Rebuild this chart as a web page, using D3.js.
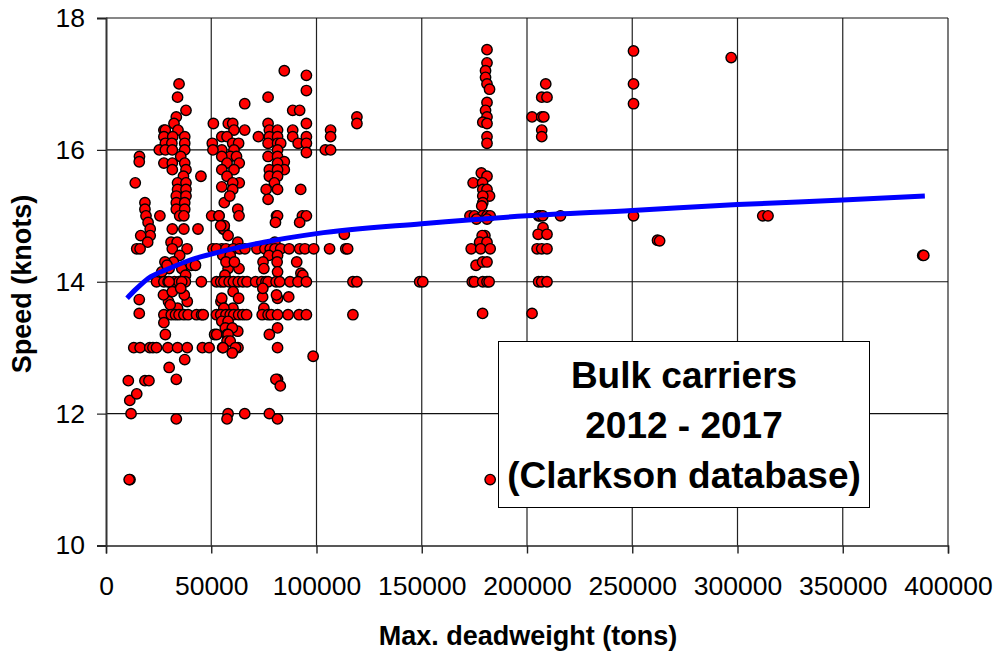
<!DOCTYPE html>
<html>
<head>
<meta charset="utf-8">
<script src="https://cdn.jsdelivr.net/npm/d3@7/dist/d3.min.js"></script>
<style>
  html, body { margin: 0; padding: 0; background: #fff; }
  svg { display: block; }
  text { font-family: "Liberation Sans", Arial, sans-serif; fill: #000; }
</style>
</head>
<body>
<div id="vis"></div>
<script>
// [deadweight, speed], grouped by ship size
const handysize = [
  [10600,12.5],[11300,12.2],[11900,12],[14600,12.3],[11400,11],[11000,11],[18500,12.5],[20400,12.5],
  [13200,13],[16200,13],[20800,13],[22300,13],[24000,13],[15800,13.73],[15800,13.52],
  [15900,15.9],[15800,15.82],[13900,15.5],[18500,15.2],[18500,15.1],[19000,15],[20000,14.9],
  [21000,14.8],[21000,14.7],[16500,14.7],[19800,14.6],[14600,14.5],[16200,14.5]
];
const handymax = [
  [34700,17],[34000,16.8],[38000,16.6],[33400,16.5],[32300,16.4],[34200,16.3],[27500,16.3],[28200,16.3],
  [27500,16.2],[31700,16.2],[37400,16.2],[28200,16.1],[31300,16.1],[37400,16.1],[25300,16],[28200,16],
  [31500,16],[37400,16],[35500,15.9],[27500,15.8],[31500,15.8],[37400,15.8],[31500,15.7],[38000,15.7],
  [36800,15.6],[45100,15.6],[34000,15.5],[38000,15.5],[34000,15.4],[38000,15.4],[33400,15.3],[38000,15.3],
  [33400,15.2],[37400,15.2],[33400,15.1],[37400,15.1],[25600,15],[35000,15],[37000,15],
  [31500,14.8],[37000,14.8],[43700,14.8],[30900,14.6],[33800,14.6],[31500,14.5],[38500,14.5],[35000,14.4],
  [32000,14.3],[28000,14.3],[30000,14.2],[36000,14.2],[26500,14.15],[29000,14.25],[40500,14.25],[42500,14.25],[37800,14.1],
  [24000,14],[27500,14],[29500,14],[32500,14],[34700,14],[37700,14],[36000,14],[45300,14],[30000,14],
  [29700,13.7],[27300,13.8],[38600,13.7],[34000,13.6],[37200,13.8],[31500,13.85],[30500,13.65],[35500,13.9],
  [27500,13.5],[31000,13.5],[33000,13.5],[34700,13.5],[37000,13.5],[39000,13.5],[43000,13.5],[45400,13.5],[46200,13.5],
  [27500,13.38],[28200,13.2],[29400,13],[34000,13],[38600,13],[45800,13],[49000,13],
  [37400,12.82],[30000,12.7],[33400,12.52],[33400,11.92]
];
const supramax = [
  [50200,15],[53700,15],[55700,14.8],[56000,14.8],[50800,14.5],[55000,14.5],[51000,16.4],[58100,16.4],[60200,16.4],
  [60800,16.3],[65900,16.3],[55000,16.2],[57500,16.2],[60200,16.1],[63000,16.1],[50500,16.1],[55000,16],[60800,16],[50800,16],
  [59000,15.9],[55000,15.9],[62000,15.9],[57500,15.8],[63300,15.8],[55000,15.7],[60800,15.7],[57500,15.6],[63300,15.5],
  [60200,15.5],[55000,15.44],[60200,15.4],[56200,15.2],[62600,15.1],[63200,15],[65900,16.7],[53700,15],[58800,15.3],
  [56200,14.85],[54500,14.85],[58000,14.7],[62600,14.6],[52500,14.5],[57000,14.5],[60500,14.5],[63500,14.5],[66000,14.5],
  [55500,14.4],[59000,14.4],[58000,14.2],[63200,14.2],[57000,14.3],[61000,14.3],[56500,14.1],
  [52500,14],[54500,14],[56000,14],[58500,14],[60500,14],[62800,14],[65000,14],[67000,14],
  [54600,13.7],[60400,13.85],[55000,13.75],[63000,13.75],[60300,13.6],[56000,13.6],
  [52500,13.5],[54500,13.5],[57000,13.5],[59000,13.5],[60700,13.5],[63000,13.5],[65000,13.5],[66800,13.5],
  [55000,13.4],[58000,13.4],[56700,13.3],[62600,13.25],[60000,13.3],[51600,13.2],[52600,13.2],[57500,13.2],[58000,13.2],
  [57500,13.1],[59000,13.1],[55400,13],[55600,13],[62700,13],[61500,13],[60000,12.92],
  [58000,12],[57500,11.92],[65900,12]
];
const panamax = [
  [84700,17.2],[95200,17.13],[95200,16.9],[77000,16.8],[88700,16.6],[92000,16.6],[95200,16.4],[77000,16.4],
  [88700,16.3],[77600,16.3],[81500,16.3],[72400,16.2],[88700,16.2],[95200,16.2],[77600,16.2],[81500,16.2],
  [91300,16.1],[95200,16.1],[77000,16.1],[81500,16.1],[83000,16.1],[95200,15.96],[81500,16],[77000,15.9],[81500,15.9],
  [84700,15.82],[81500,15.8],[84700,15.7],[77600,15.7],[81500,15.7],[77600,15.6],[81500,15.6],[80000,15.5],
  [76100,15.4],[81500,15.4],[92500,15.4],[77000,15.25],[81000,15],[81500,15],[93300,15],[95200,15],
  [80500,14.9],[92000,14.9],[80200,14.6],[71700,14.5],[75500,14.5],[78000,14.5],[80300,14.5],[83000,14.5],[87000,14.5],
  [92000,14.5],[94500,14.5],[98700,14.5],[77400,14.4],[81500,14.4],[90600,14.3],[74600,14.3],[81300,14.3],
  [75000,14.2],[92600,14.13],[81500,14.15],[93500,14.1],[71100,14],[74000,14],[76000,14],[77000,14],[80800,14],[82500,14],
  [87400,14],[91200,14],[95200,14],[74400,13.77],[81500,13.75],[81000,13.8],[86800,13.77],[74500,13.9],[75000,13.6],
  [74200,13.5],[77000,13.5],[78500,13.5],[81500,13.5],[86500,13.5],[91700,13.5],[95200,13.5],
  [81500,13.3],[77600,13.2],[81500,13],[98400,12.87],[81500,12.52],[80700,12.52],[82800,12.42],[77600,12],[81500,11.92]
];
const postPanamax = [
  [119200,16.5],[119200,16.4],[106700,16.3],[106700,16.2],[104200,16],[106700,16],
  [113200,14.72],[106200,14.5],[113900,14.5],[114800,14.5],[117300,14],[119200,14],[117300,13.5],
  [149000,14],[150500,14]
];
const capesize = [
  [181000,17.52],[181000,17.32],[180300,17.2],[180300,17.1],[181000,17],[182200,16.92],[181000,16.72],[180300,16.6],
  [181000,16.5],[179000,16.42],[181000,16.4],[181000,16.2],[181000,16.1],
  [178300,15.65],[181000,15.6],[174400,15.5],[178900,15.5],[179000,15.4],[181000,15.4],[182200,15.3],[179000,15.3],[179000,15.2],[178500,15.15],
  [172900,15],[175000,15],[178900,15],[181000,15],[182500,15],[176000,14.95],[181000,14.95],
  [207600,14.82],[205300,14.72],[209500,14.72],[180000,14.7],[178700,14.7],[177500,14.6],[181000,14.6],
  [173500,14.5],[178000,14.5],[182500,14.5],[175800,14.25],[178900,14.3],[181000,14.3],
  [174000,14],[175000,14],[179000,14],[181000,14],[182000,14],[178900,13.52],[182500,11],
  [208900,17],[207000,16.8],[209500,16.8],[202400,16.5],[207000,16.5],[208000,16.5],[207000,16.3],[207000,16.2],
  [205500,15],[206200,15],[207500,15],[215900,15],[204800,14.5],[207000,14.5],[209500,14.5],
  [205500,14],[207000,14],[209500,14],[202400,13.52]
];
const vloc = [
  [250600,17.5],[250600,17],[250600,16.7],[250600,15],[262000,14.63],[263000,14.62],[297000,17.4],
  [312000,15],[314500,15],[388000,14.4],[388500,14.4]
];

// trend line read at a few places
const trendDwt = [10000,14000,20000,30000,40000,50000,75000,100000,150000,200000,250000,300000,350000,389000];
const trendSpeed = [13.75,13.88,14.05,14.2,14.33,14.42,14.6,14.73,14.88,15,15.08,15.17,15.24,15.3];

const xTicks = [0,50000,100000,150000,200000,250000,300000,350000,400000];
const yTicks = [10,12,14,16,18];
const boxLines = ["Bulk carriers","2012 - 2017","(Clarkson database)"];

const width = 997;
const height = 655;
const allShips = [...handysize, ...handymax, ...supramax, ...panamax, ...postPanamax, ...capesize, ...vloc];

const svg = d3.select("#vis")
  .append("svg")
  .attr("width", width)
  .attr("height", height);

const x = d3.scaleLinear().domain([0, 400000]).range([106, 948]);
const y = d3.scaleLinear().domain([10, 18]).range([545.5, 18]);

// gridlines and frame
svg.append("g").selectAll("line")
  .data(xTicks.slice(1))
  .enter()
  .append("line")
  .attr("x1", d => x(d)).attr("x2", d => x(d))
  .attr("y1", y(10)).attr("y2", y(18))
  .attr("stroke", "#222").attr("stroke-width", 1.2);

svg.append("g").selectAll("line")
  .data(yTicks.slice(1))
  .enter()
  .append("line")
  .attr("x1", x(0)).attr("x2", x(400000))
  .attr("y1", d => y(d)).attr("y2", d => y(d))
  .attr("stroke", "#111").attr("stroke-width", 1.2);

const xAxis = d3.axisBottom(x).tickValues(xTicks).tickFormat(d3.format("d")).tickSize(8).tickPadding(23);
const yAxis = d3.axisLeft(y).tickValues(yTicks).tickSize(9).tickPadding(12);

svg.append("g")
  .attr("transform", `translate(0,${y(10)})`)
  .call(xAxis)
  .call(g => g.selectAll("text").attr("font-size", "26.5px").attr("font-family", "Liberation Sans"))
  .call(g => g.selectAll("line,path").attr("stroke", "#222").attr("stroke-width", 1.4));

svg.append("g")
  .attr("transform", `translate(${x(0)},0)`)
  .call(yAxis)
  .call(g => g.selectAll("text").attr("font-size", "26.5px").attr("font-family", "Liberation Sans"))
  .call(g => g.selectAll("line").attr("stroke", "#222").attr("stroke-width", 1.2))
  .call(g => g.select(".domain").attr("stroke", "#333").attr("stroke-width", 2));

// points
svg.append("g").selectAll("circle")
  .data(allShips)
  .enter()
  .append("circle")
  .attr("cx", d => x(d[0]))
  .attr("cy", d => y(d[1]))
  .attr("r", 5.2)
  .attr("fill", "#ff0000")
  .attr("stroke", "#000")
  .attr("stroke-width", 1.4);

// trend
svg.append("path")
  .datum(trendDwt.map((d, i) => [d, trendSpeed[i]]))
  .attr("fill", "none")
  .attr("stroke", "#0000ff")
  .attr("stroke-width", 5)
  .attr("d", d3.line().x(d => x(d[0])).y(d => y(d[1])).curve(d3.curveMonotoneX));

// label box
svg.append("rect")
  .attr("x", 498.5).attr("y", 341.5)
  .attr("width", 371).attr("height", 166)
  .attr("fill", "#fff").attr("stroke", "#000").attr("stroke-width", 1);

svg.append("g").selectAll("text")
  .data(boxLines)
  .enter()
  .append("text")
  .attr("x", 684)
  .attr("y", (d, i) => 388 + i * 50)
  .attr("text-anchor", "middle")
  .attr("font-size", "37px")
  .attr("font-weight", "bold")
  .text(d => d);

svg.append("text")
  .attr("x", 528)
  .attr("y", 645)
  .attr("text-anchor", "middle")
  .attr("font-size", "27px")
  .attr("font-weight", "bold")
  .text("Max. deadweight (tons)");

svg.append("text")
  .attr("transform", "translate(31,284) rotate(-90)")
  .attr("text-anchor", "middle")
  .attr("font-size", "27px")
  .attr("font-weight", "bold")
  .text("Speed (knots)");
</script>
</body>
</html>
